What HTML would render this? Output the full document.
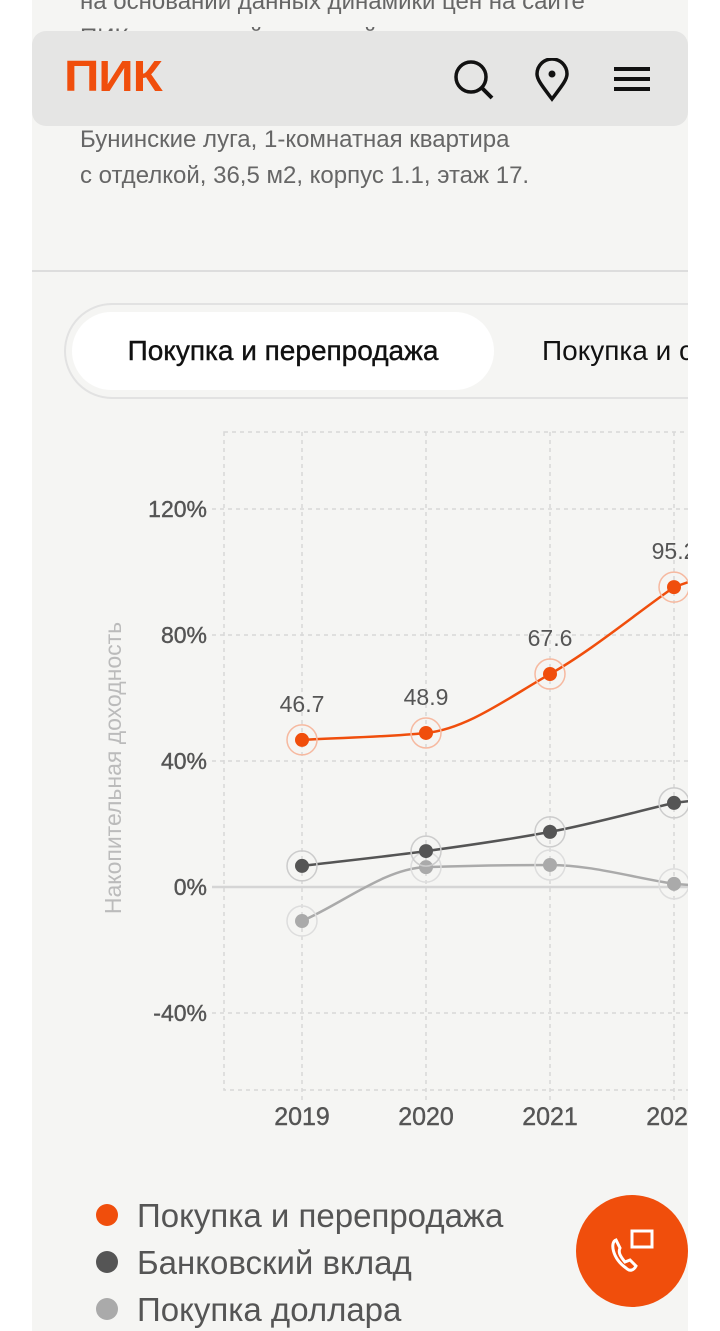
<!DOCTYPE html>
<html><head><meta charset="utf-8">
<style>
html,body{margin:0;padding:0;background:#fff;}
body{width:720px;height:1331px;position:relative;overflow:hidden;font-family:"Liberation Sans","Noto Sans CJK SC",sans-serif;}
#page{position:absolute;left:32px;top:0;width:656px;height:1331px;background:#f5f5f3;overflow:hidden;}
.t{position:absolute;color:#555;}
</style></head>
<body>
<div id="page">
  <div class="t" style="left:48px;top:-16px;font-size:24px;line-height:36px;color:#666;white-space:nowrap;">на основании данных динамики цен на сайте<br>ПИК, изменений ключевой ставки</div>
  <div class="t" style="left:48px;top:122px;font-size:24px;line-height:36px;color:#666;white-space:nowrap;">Бунинские луга, 1-комнатная квартира<br>с отделкой, 36,5 м2, корпус 1.1, этаж 17.</div>
  <div style="position:absolute;left:0;top:270px;width:656px;height:2px;background:#ddd;"></div>
  <div style="position:absolute;left:32px;top:303px;width:700px;height:96px;border:2px solid #e2e2e2;border-radius:50px;box-sizing:border-box;"></div>
  <div style="position:absolute;left:40px;top:312px;width:422px;height:78px;background:#fff;border-radius:40px;font-size:28px;line-height:78px;text-align:center;color:#111;-webkit-text-stroke:0.4px #111;">Покупка и перепродажа</div>
  <div style="position:absolute;left:510px;top:312px;height:78px;font-size:28px;line-height:78px;color:#111;white-space:nowrap;">Покупка и сдача</div>
  <svg id="chart" width="656" height="1331" style="position:absolute;left:0;top:0;"></svg>
  <div style="position:absolute;left:64px;top:1192px;font-size:33px;color:#555;line-height:47px;white-space:nowrap;">
    <div><span style="display:inline-block;width:22px;height:22px;border-radius:50%;background:#f04e0c;margin-right:19px;vertical-align:1px;"></span>Покупка и перепродажа</div>
    <div><span style="display:inline-block;width:22px;height:22px;border-radius:50%;background:#555;margin-right:19px;vertical-align:1px;"></span>Банковский вклад</div>
    <div><span style="display:inline-block;width:22px;height:22px;border-radius:50%;background:#aaa;margin-right:19px;vertical-align:1px;"></span>Покупка доллара</div>
  </div>
</div>
<div style="position:absolute;left:32px;top:31px;width:656px;height:95px;background:#e5e5e4;border-radius:14px;"></div>
<div style="position:absolute;left:64px;top:53px;font-size:44px;line-height:48px;font-weight:bold;color:#f04e0c;letter-spacing:-1px;transform:scaleX(1.12);transform-origin:left;">ПИК</div>
<svg style="position:absolute;left:452px;top:58px" width="44" height="44"><circle cx="19" cy="19" r="15" fill="none" stroke="#111" stroke-width="3.5"/><line x1="30" y1="30" x2="40" y2="40" stroke="#111" stroke-width="4"/></svg>
<svg style="position:absolute;left:533px;top:58px" width="40" height="44"><path d="M19 41 C10 29 4 22 4 16 A15 15 0 0 1 34 16 C34 22 28 29 19 41Z" fill="none" stroke="#111" stroke-width="3.5"/><circle cx="19" cy="16" r="3.5" fill="#111"/></svg>
<svg style="position:absolute;left:612px;top:64px" width="40" height="32"><g stroke="#111" stroke-width="4"><line x1="2" y1="5" x2="38" y2="5"/><line x1="2" y1="15" x2="38" y2="15"/><line x1="2" y1="25" x2="38" y2="25"/></g></svg>
<div style="position:absolute;left:576px;top:1195px;width:112px;height:112px;border-radius:50%;background:#f04e0c;"></div>
<svg style="position:absolute;left:608px;top:1228px" width="50" height="50"><g fill="none" stroke="#fff" stroke-width="3"><rect x="24" y="3" width="20" height="16"/><path d="M8 12 C2 14 4 30 18 40 C22 44 26 42 28 38 L22 32 L17 34 C12 28 10 24 12 20 Z"/></g></svg>
<script>
const years=["2019","2020","2021","2022"];
const resale=[46.7,48.9,67.6,95.2];
const deposit=[6.7,11.4,17.5,26.7];
const dollar=[-10.8,6.3,7.0,1.0];
const yTicks=[120,80,40,0,-40];
const resaleLabels=["46.7","48.9","67.6","95.2"];
const svg=document.getElementById('chart');
const NS='http://www.w3.org/2000/svg';
const ox=32;
const FF='Liberation Sans, sans-serif';
function xS(i){return 302-ox+i*124;}
function yS(v){return 887-v*3.15;}
function mk(t,a){const e=document.createElementNS(NS,t);for(const k in a)e.setAttribute(k,a[k]);svg.appendChild(e);return e;}
let fr=mk('rect',{x:224-ox,y:432,width:700,height:658,fill:'none',stroke:'#d8d8d8','stroke-dasharray':'4 4','stroke-width':1.5});


yTicks.forEach(v=>{
  const y=yS(v);
  let g=mk('line',{x1:212-ox,x2:700,y1:y,y2:y,stroke:v===0?'#d5d5d5':'#d8d8d8','stroke-width':v===0?2.5:1.5,'stroke-dasharray':v===0?'':'4 4'});
  
  
  let t=mk('text',{x:207-ox,y:y+8,'text-anchor':'end','font-size':23,fill:'#555','font-family':FF,stroke:'#555','stroke-width':0.4});
  t.textContent=v+'%';
  
  
});
years.forEach((yr,i)=>{
  const x=xS(i);
  let g=mk('line',{x1:x,x2:x,y1:432,y2:1100,stroke:'#d8d8d8','stroke-width':1.5,'stroke-dasharray':'4 4'});
  
  
  let t=mk('text',{x:x,y:1125,'text-anchor':'middle','font-size':25,fill:'#555','font-family':FF,stroke:'#555','stroke-width':0.4});
  t.textContent=yr;
  
  
});
let yt=mk('text',{x:0,y:0,transform:'translate('+(121-ox)+',768) rotate(-90)','text-anchor':'middle','font-size':23,fill:'#bbb','font-family':FF});
yt.textContent='Накопительная доходность';


function path(vals){
  const p=vals.map((v,i)=>[xS(i),yS(v)]);
  const n=p.length,h=124;
  const d0=[];for(let i=0;i<n-1;i++)d0.push((p[i+1][1]-p[i][1])/h);
  const m=[];
  for(let i=0;i<n;i++){
    if(i===0)m.push(d0[0]);else if(i===n-1)m.push(d0[n-2]);
    else{const a=d0[i-1],b=d0[i];m.push(a*b<=0?0:2*a*b/(a+b));}
  }
  let d='M'+p[0][0]+' '+p[0][1];
  for(let i=0;i<n-1;i++){
    d+=' C'+(p[i][0]+h/3)+' '+(p[i][1]+m[i]*h/3)+' '+(p[i+1][0]-h/3)+' '+(p[i+1][1]-m[i+1]*h/3)+' '+p[i+1][0]+' '+p[i+1][1];
  }
  const l=p[n-1];d+=' L'+(l[0]+30)+' '+(l[1]+m[n-1]*15);
  return d;
}
function series(vals,col,ring,name){
  let pl=mk('path',{d:path(vals),fill:'none',stroke:col,'stroke-width':2.5});
  
  
  vals.forEach((v,i)=>{
    let r=mk('circle',{cx:xS(i),cy:yS(v),r:15,fill:'none',stroke:ring,'stroke-width':1.5});
    
    
    let c=mk('circle',{cx:xS(i),cy:yS(v),r:7,fill:col});
    
    
  });
}
series(dollar,'#aaa','#ddd','dollar');
series(deposit,'#555','#ccc','deposit');
series(resale,'#f04e0c','#f6b9a0','resale');
resale.forEach((v,i)=>{
  let t=mk('text',{x:xS(i),y:yS(v)-28,'text-anchor':'middle','font-size':23,fill:'#555','font-family':FF});
  t.textContent=resaleLabels[i];
  
  
});
</script>
</body></html>
